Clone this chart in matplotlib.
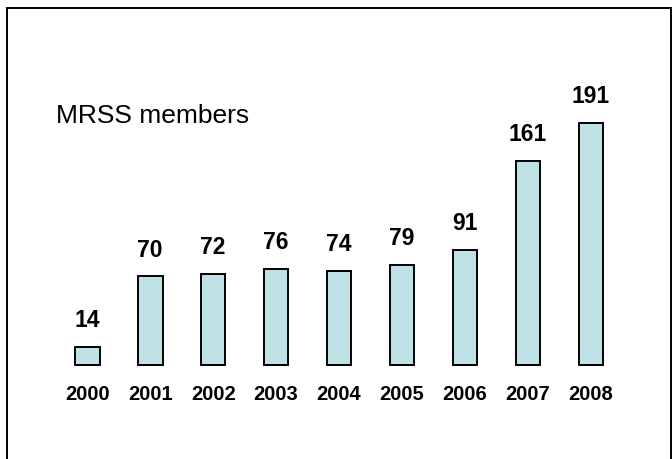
import matplotlib.pyplot as plt
import matplotlib.patches as patches

plt.rcParams['font.family'] = ['Liberation Sans', 'DejaVu Sans']

years = ["2000", "2001", "2002", "2003", "2004", "2005", "2006", "2007", "2008"]
members = [14, 70, 72, 76, 74, 79, 91, 161, 191]

fig = plt.figure(figsize=(6.72, 4.6), dpi=100)
ax = fig.add_axes([0, 0, 1, 1])

x = range(len(years))
ax.bar(x, members, width=0.39, color="#bde1e4", edgecolor="black", linewidth=1.4)

# value labels above bars, year labels under baseline
for i, v in enumerate(members):
    ax.annotate(str(v), xy=(i, v), xytext=(0, 19.5), textcoords="offset points",
                ha="center", va="center", fontsize=16.5, fontweight="bold")
    ax.annotate(years[i], xy=(i, 0), xytext=(0, -21), textcoords="offset points",
                ha="center", va="center", fontsize=14.5, fontweight="bold")

ax.set_xlim(-1.387, 9.29)
ax.set_ylim(-74.5, 289.0)
ax.axis("off")

fig.text(56 / 672, 1 - 123.3 / 460, "MRSS members", fontsize=19, va="baseline", ha="left")

# outer frame (bottom edge runs off the picture)
frame = patches.Rectangle((7 / 672, -0.05), (671 - 7) / 672, 1.05 - 9 / 460,
                          transform=fig.transFigure, fill=False,
                          edgecolor="black", linewidth=1.4)
fig.patches.append(frame)

plt.savefig("out.png", dpi=100)
